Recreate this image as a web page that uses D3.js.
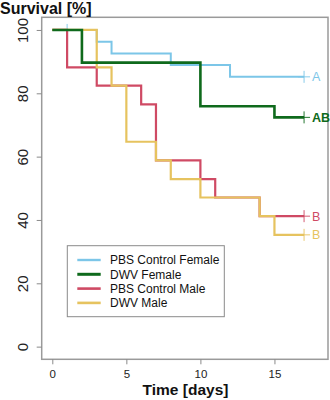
<!DOCTYPE html>
<html>
<head>
<meta charset="utf-8">
<script src="https://cdn.jsdelivr.net/npm/d3@7"></script>
<style>
  html, body { margin: 0; padding: 0; background: #fff; }
  svg { display: block; font-family: "Liberation Sans", Arial, sans-serif; }
</style>
</head>
<body>
<svg id="chart" width="330" height="400"></svg>
<script>
// ---- data ----
const seriesNames = ["PBS Control Female", "DWV Female", "PBS Control Male", "DWV Male"];
const seriesColors = ["#7cc6e8", "#0f6a1c", "#cf4a64", "#e6c35f"];
const groupLetters = ["A", "AB", "B", "B"];

const blueTimes = [0, 3, 4, 8, 12];
const blueSurv = [100, 96.3, 92.6, 88.9, 85.2];
const blueCensor = [1, 17];

const greenTimes = [0, 2, 10, 15];
const greenSurv = [100, 89.7, 75.9, 72.4];
const greenCensor = [17];

const redTimes = [0, 1, 3, 6, 7, 10, 11, 14];
const redSurv = [100, 88.2, 82.4, 76.5, 58.8, 52.9, 47.1, 41.2];
const redCensor = [17];

const yellowTimes = [0, 3, 4, 5, 7, 8, 10, 14, 15];
const yellowSurv = [100, 88.2, 82.4, 64.7, 58.8, 52.9, 47.1, 41.2, 35.3];
const yellowCensor = [17];

const endTime = 17;
const xTicks = [0, 5, 10, 15];
const yTicks = [0, 20, 40, 60, 80, 100];

const series = [
  { name: seriesNames[0], color: seriesColors[0], times: blueTimes, surv: blueSurv, censor: blueCensor, letter: groupLetters[0], width: 2 },
  { name: seriesNames[1], color: seriesColors[1], times: greenTimes, surv: greenSurv, censor: greenCensor, letter: groupLetters[1], width: 2.6 },
  { name: seriesNames[2], color: seriesColors[2], times: redTimes, surv: redSurv, censor: redCensor, letter: groupLetters[2], width: 2.2 },
  { name: seriesNames[3], color: seriesColors[3], times: yellowTimes, surv: yellowSurv, censor: yellowCensor, letter: groupLetters[3], width: 2.2 }
];
// draw order bottom->top
const drawOrder = [0, 2, 3, 1];

// ---- layout ----
const svg = d3.select("#chart");
const x = d3.scaleLinear().domain([-0.716, 18.616]).range([41.7, 328]);
const y = d3.scaleLinear().domain([-4, 104]).range([359.3, 17.3]);

// box
svg.append("rect")
  .attr("x", x.range()[0]).attr("y", y.range()[1])
  .attr("width", x.range()[1] - x.range()[0])
  .attr("height", y.range()[0] - y.range()[1])
  .attr("fill", "none").attr("stroke", "#9a9a9a").attr("stroke-width", 1.5);

// x axis
const xAxis = svg.append("g")
  .attr("transform", `translate(0,${y.range()[0]})`)
  .call(d3.axisBottom(x).tickValues(xTicks).tickSize(5).tickPadding(6).tickFormat(d3.format("d")));
xAxis.select(".domain").remove();
xAxis.selectAll(".tick line").attr("stroke", "#8a8a8a");
xAxis.selectAll(".tick text").attr("fill", "#222").style("font-size", "11.5px").style("font-family", "Liberation Sans, Arial, sans-serif");

// y axis
const yAxis = svg.append("g")
  .attr("transform", `translate(${x.range()[0]},0)`)
  .call(d3.axisLeft(y).tickValues(yTicks).tickSize(5).tickFormat(d3.format("d")));
yAxis.select(".domain").remove();
yAxis.selectAll(".tick line").attr("stroke", "#8a8a8a");
yAxis.selectAll(".tick text")
  .attr("fill", "#222")
  .attr("x", null).attr("dy", null)
  .attr("text-anchor", "middle")
  .attr("transform", "translate(-13.5,0) rotate(-90)")
  .style("font-size", "15px").style("font-family", "Liberation Sans, Arial, sans-serif");

function survAt(s, t) {
  let v = s.surv[0];
  s.times.forEach((tt, k) => { if (tt <= t) v = s.surv[k]; });
  return v;
}

// censor marks (drawn beneath the curves)
series.forEach(s => {
  s.censor.forEach(t => {
    const cx = x(t), cy = y(survAt(s, t));
    svg.append("path")
      .attr("d", `M${cx - 6},${cy}H${cx + 6}M${cx},${cy - 6}V${cy + 6}`)
      .attr("stroke", s.color).attr("stroke-width", 0.9).attr("fill", "none");
  });
});

// step lines
const stepLine = d3.line().x(d => x(d[0])).y(d => y(d[1])).curve(d3.curveStepAfter);
drawOrder.forEach(i => {
  const s = series[i];
  const pts = s.times.map((t, k) => [t, s.surv[k]]);
  pts.push([endTime, s.surv[s.surv.length - 1]]);
  svg.append("path")
    .attr("d", stepLine(pts))
    .attr("fill", "none")
    .attr("stroke", s.color)
    .attr("stroke-width", s.width);
});

// group letters
series.forEach(s => {
  const last = s.surv[s.surv.length - 1];
  svg.append("text")
    .attr("x", x(endTime) + 8)
    .attr("y", y(last))
    .attr("dy", "0.36em")
    .attr("fill", s.color)
    .style("font-size", "12.5px")
    .style("font-weight", s.letter === "AB" ? "bold" : "normal")
    .text(s.letter);
});

// legend
const lg = svg.append("g");
lg.append("rect")
  .attr("x", 67.3).attr("y", 245.7).attr("width", 157).attr("height", 71)
  .attr("fill", "#fff").attr("stroke", "#8a8a8a").attr("stroke-width", 1);
series.forEach((s, i) => {
  const ly = 260 + i * 14.3;
  lg.append("line").attr("x1", 77.3).attr("x2", 100.7).attr("y1", ly).attr("y2", ly)
    .attr("stroke", s.color).attr("stroke-width", s.width + 0.4);
  lg.append("text").attr("x", 110).attr("y", ly).attr("dy", "0.36em")
    .attr("fill", "#111").style("font-size", "12px").text(s.name);
});

// titles
svg.append("text").attr("x", 0).attr("y", 13.5)
  .style("font-size", "16px").style("font-weight", "bold").attr("fill", "#111")
  .text("Survival [%]");
svg.append("text").attr("x", 185.5).attr("y", 395).attr("text-anchor", "middle")
  .style("font-size", "15.5px").style("font-weight", "bold").attr("fill", "#111")
  .text("Time [days]");
</script>
</body>
</html>
